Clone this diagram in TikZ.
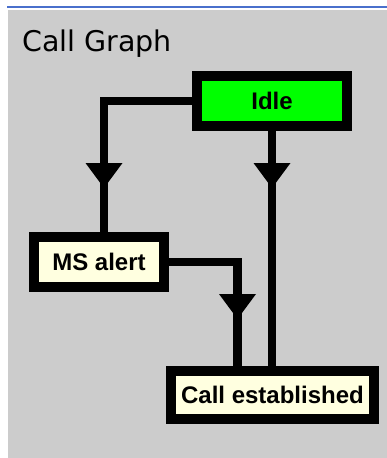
\documentclass[tikz,border=0pt]{standalone}
\usepackage{fontspec}
\setmainfont{Liberation Sans}
\newfontfamily\titlefont{DejaVu Sans}
\usetikzlibrary{calc}
\definecolor{panel}{HTML}{CCCCCC}
\definecolor{idlegreen}{HTML}{00FF00}
\definecolor{cream}{HTML}{FFFFE0}
\definecolor{topblue}{HTML}{4A70CC}
\tikzset{
  statebox/.style={draw=black, line width=10pt, inner sep=0pt,
    font=\bfseries\fontsize{24}{24}\selectfont, text=black},
  link/.style={line width=8.5pt, black},
  head/.style={fill=black},
}
\begin{document}
\begin{tikzpicture}[x=1pt,y=-1pt]
\fill[white] (0,0) rectangle (387,458);
\useasboundingbox (0,0) rectangle (387,458);
\fill[panel] (8,10) rectangle (387,458);
\draw[topblue, line width=2pt] (7,7) -- (387,7);
\node[anchor=base west, inner sep=0pt, font=\titlefont\fontsize{28.5}{28.5}\selectfont] (title) at (22,51.5) {Call Graph};

\node[statebox, fill=idlegreen, minimum width=150pt, minimum height=50pt] (idle) at (272,101) {Idle};
\node[statebox, fill=cream, minimum width=130pt, minimum height=50pt] (ms) at (99,262) {MS alert};
\node[statebox, fill=cream, minimum width=203pt, minimum height=48pt] (ce) at (272.5,395) {Call established};

\draw[link] (idle.west) -| ([xshift=5pt]ms.north);
\draw[link] (idle.south) -- (ce.north -| idle.south);
\draw[link] (ms.east) -| ([xshift=-35pt]ce.north);

\fill[head] (85.5,163) -- (122.5,163) -- (104,188) -- cycle;
\fill[head] (253.5,163) -- (290.5,163) -- (272,188) -- cycle;
\fill[head] (219,294) -- (256,294) -- (237.5,319) -- cycle;
\end{tikzpicture}
\end{document}
